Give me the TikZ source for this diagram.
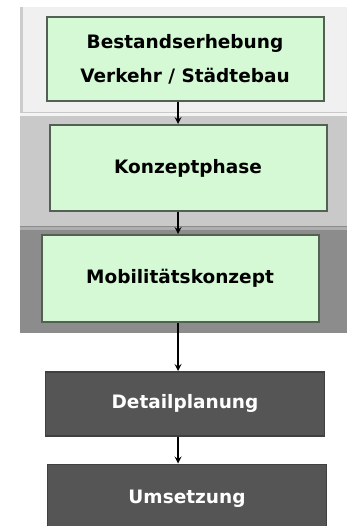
\documentclass[tikz,border=0pt]{standalone}
\usepackage{fontspec}
\setmainfont{DejaVu Sans}
\usepackage{tikz}
\usetikzlibrary{positioning,calc}

\definecolor{mint}{RGB}{212,249,212}
\definecolor{mintedge}{RGB}{84,96,84}
\definecolor{slate}{RGB}{85,85,85}
\definecolor{bandA}{RGB}{240,240,240}
\definecolor{bandB}{RGB}{201,201,201}
\definecolor{bandC}{RGB}{140,140,140}

\begin{document}
\begin{tikzpicture}[x=1pt,y=-1pt,
		phase/.style={draw=mintedge,line width=2pt,fill=mint,minimum width=277pt,
			font=\fontsize{18.5}{34}\selectfont\bfseries,align=center},
		work/.style={draw=slate!75!black,line width=1.5pt,fill=slate,text=white,minimum width=279pt,
			font=\fontsize{18.5}{34}\selectfont\bfseries},
		flow/.style={-stealth,line width=2pt,black}]
		\useasboundingbox (0,0) rectangle (347,526);
		
		% background bands
		\fill[bandA] (20,7) rectangle (347,112);
		\fill[bandA!85!black] (20,7) rectangle (23,112);
		\fill[bandB] (20,112) rectangle (347,226);
		\fill[white!80!bandB] (20,113) rectangle (347,116);
		\fill[bandC] (20,226) rectangle (347,333);
		\fill[bandC!70!white] (20,227) rectangle (347,230);
		
		\node[phase,minimum height=84pt] at (185,59) (b1) {Bestandserhebung\\Verkehr / Städtebau};
		\node[phase,minimum height=86pt,below=22pt of b1,xshift=3pt] (b2) {Konzeptphase};
		\node[phase,minimum height=87pt,below=22pt of b2,xshift=-8pt] (b3) {Mobilitätskonzept};
		\node[work,minimum height=64pt,below=48pt of b3,xshift=5pt] (b4) {Detailplanung};
		\node[work,minimum height=68pt,below=27pt of b4,xshift=2pt] (b5) {Umsetzung};
		
		\coordinate (spine) at (178,0);
		\draw[flow] (b1.south -| spine) -- (b2.north -| spine);
		\draw[flow] (b2.south -| spine) -- (b3.north -| spine);
		\draw[flow] (b3.south -| spine) -- (b4.north -| spine);
		\draw[flow] (b4.south -| spine) -- (b5.north -| spine);
	\end{tikzpicture}
\end{document}
